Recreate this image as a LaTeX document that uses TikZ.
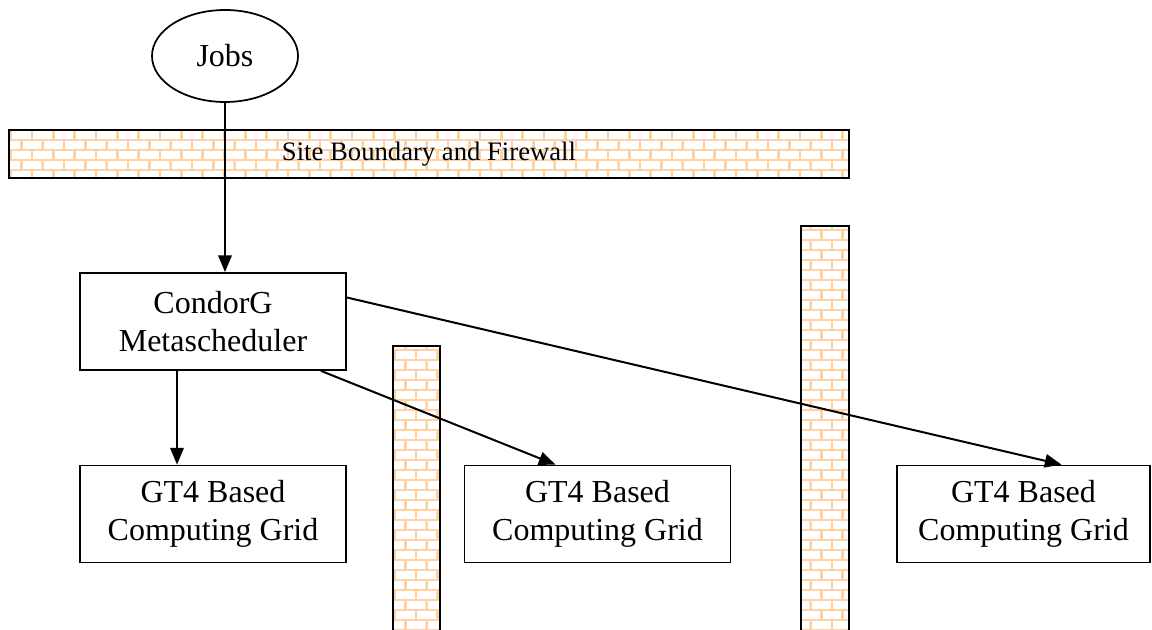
\documentclass[tikz,border=0pt]{standalone}
\usepackage{fontspec}
\setmainfont{Liberation Serif}
\usetikzlibrary{positioning,calc,arrows.meta,shapes,patterns}

\definecolor{mortar}{HTML}{FFD2A6}

% brick wall fill
\pgfdeclarepatternformonly{brickwall}{\pgfqpoint{-1pt}{-1pt}}{\pgfqpoint{17pt}{16pt}}{\pgfqpoint{16pt}{15pt}}{
 	\pgfsetlinewidth{2pt}
 	\pgfpathmoveto{\pgfqpoint{-1pt}{0pt}}\pgfpathlineto{\pgfqpoint{17pt}{0pt}}
 	\pgfpathmoveto{\pgfqpoint{-1pt}{7.5pt}}\pgfpathlineto{\pgfqpoint{17pt}{7.5pt}}
 	\pgfpathmoveto{\pgfqpoint{0pt}{0pt}}\pgfpathlineto{\pgfqpoint{0pt}{7.5pt}}
 	\pgfpathmoveto{\pgfqpoint{8pt}{7.5pt}}\pgfpathlineto{\pgfqpoint{8pt}{15pt}}
 	\pgfusepath{stroke}
}

\tikzset{
 	box/.style={draw, line width=1.3pt, minimum width=199.5pt, minimum height=72.75pt,
 		align=center, inner sep=0pt, font=\fontsize{24}{28}\selectfont},
 	wall/.style={draw, line width=1.6pt, pattern=brickwall, pattern color=mortar, inner sep=0pt},
 	flow/.style={-{Triangle[length=12.5pt,width=10pt]}, line width=1.5pt}
}

\begin{document}
\begin{tikzpicture}[x=0.75pt,y=-0.75pt]
 	\useasboundingbox (0,0) rectangle (1152,630);

 	% Walls
 	\node[wall, minimum width=630pt, minimum height=36pt, font=\fontsize{20}{24}\selectfont]
 		(firewall) at (429,154) {Site Boundary and Firewall};
 	\node[wall, minimum width=35.25pt, minimum height=220.5pt] (wallone) at (416.5,493) {};
 	\node[wall, minimum width=36pt, minimum height=310.5pt] (walltwo) at (825,433) {};

 	% Nodes
 	\node[ellipse, draw, line width=1.3pt, minimum width=109.5pt, minimum height=69pt,
 		inner sep=0pt, font=\fontsize{24}{28}\selectfont] (jobs) at (225,56) {Jobs};
 	\node[box] (condor) at (213,321.5) {CondorG\\Metascheduler};
 	\node[box] (gtone) at (213,514) {GT4 Based\\Computing Grid};
 	\node[box] (gttwo) at (597.5,514) {GT4 Based\\Computing Grid};
 	\node[box, minimum width=189.75pt] (gtthree) at (1023.5,514) {GT4 Based\\Computing Grid};

 	% Submissions
 	\draw[flow] (jobs.south) -- (jobs.south |- condor.north);
 	\draw[flow] ($(condor.south)+(-36,0)$) -- ($(gtone.north)+(-36,0)$);
 	\draw[flow] ($(condor.south east)+(-26,0)$) -- ($(gttwo.north)+(-42,0)$);
 	\draw[flow] ($(condor.east)+(0,-24)$) -- ($(gtthree.north)+(38,0)$);
\end{tikzpicture}
\end{document}
